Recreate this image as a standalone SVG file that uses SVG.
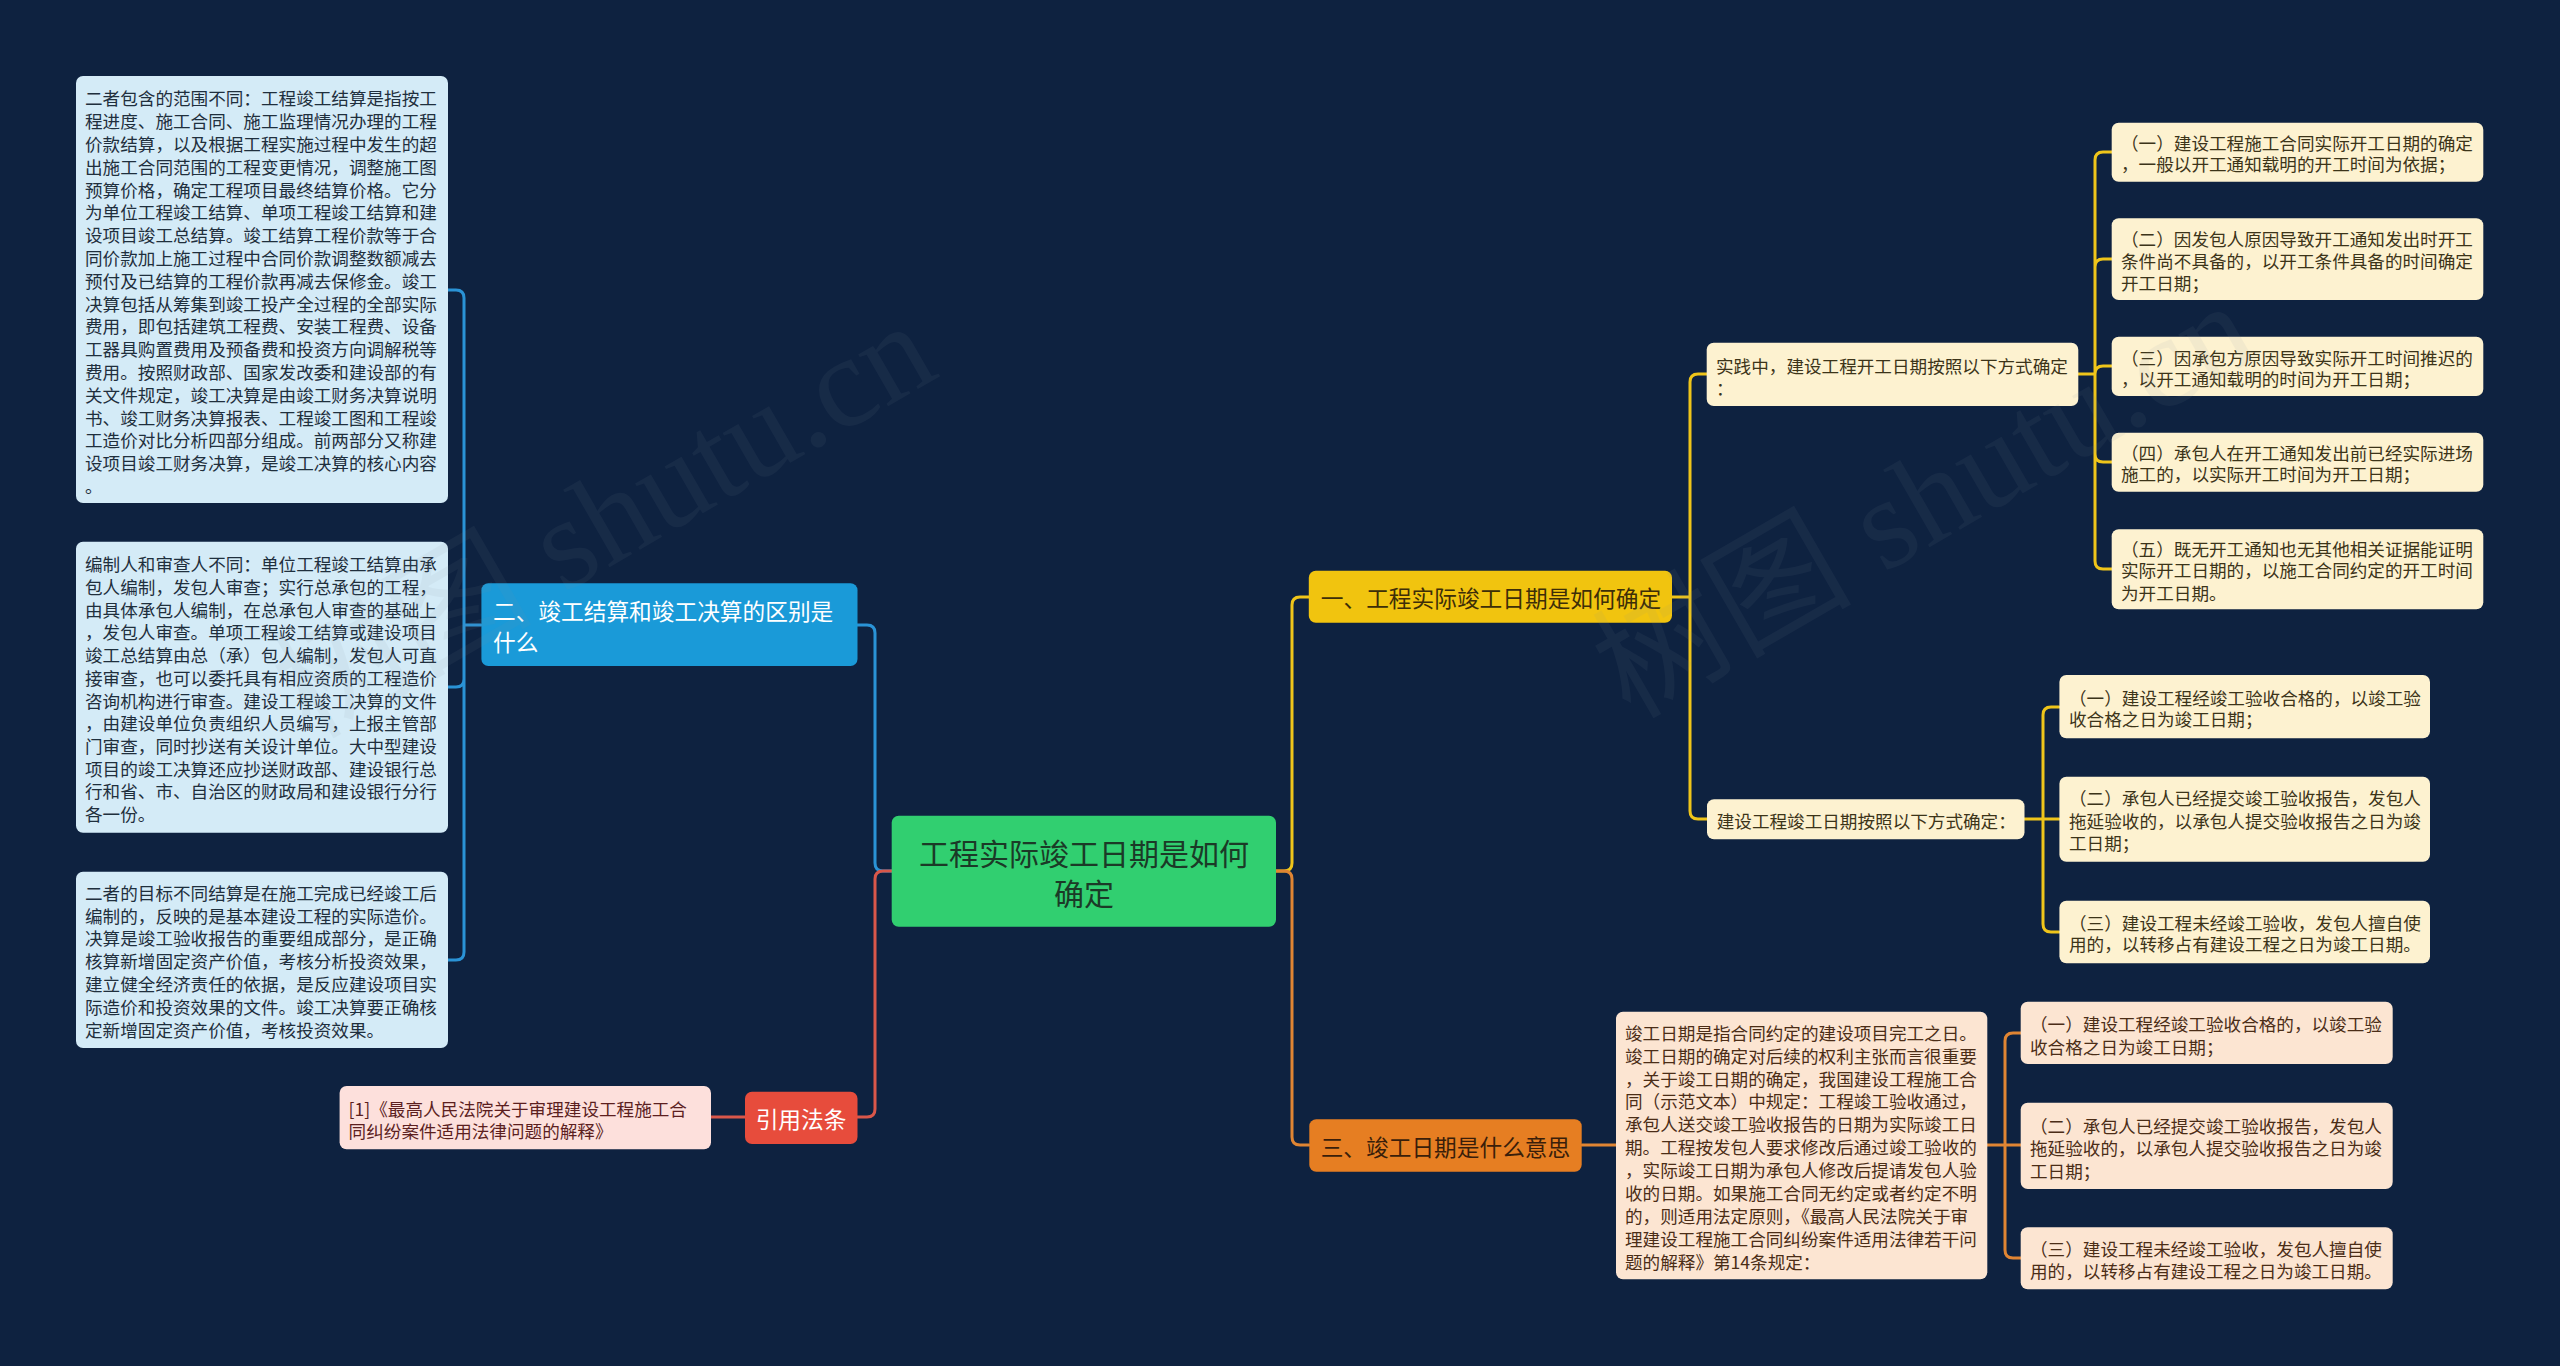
<svg xmlns="http://www.w3.org/2000/svg" width="2560" height="1366" viewBox="0 0 2560 1366">
<style>
text{font-family:"Noto Sans CJK SC","Noto Sans",sans-serif;dominant-baseline:central}
.s{font-size:17.6px}
.m{font-size:22.7px}
.c path{fill:none;stroke-width:3;stroke-linecap:round;stroke-linejoin:round}
.cb{stroke:#2a93d6}.cr{stroke:#d9574a}.cy{stroke:#efc51a}.co{stroke:#e08533}
.bb{fill:#d4ebf7}.tb{fill:#1f2f3d}
.by{fill:#fdf2d0}.ty{fill:#3c3419}
.bo{fill:#fce5d2}.to{fill:#4b2d17}
.wm{font-family:"Liberation Serif","Noto Sans CJK SC",serif;font-size:130px;fill:#8090a0;opacity:0.08}
</style>
<rect width="2560" height="1366" fill="#0e2240"/>

<g id="connectors" class="c">
<path class="cb" d="M892 871H883Q875 871 875 863V633Q875 625 867 625H857"/>
<path class="cr" d="M892 871H883Q875 871 875 879V1109Q875 1117 867 1117H857"/>
<path class="cy" d="M1276 871H1284Q1292 871 1292 863V605Q1292 597 1300 597H1309"/>
<path class="co" d="M1276 871H1284Q1292 871 1292 879V1137Q1292 1145 1300 1145H1309"/>
<path class="cb" d="M481 625H464M464 625V298Q464 290 456 290H448M464 625V679Q464 687 456 687H448M464 625V952Q464 960 456 960H448"/>
<path class="cr" d="M745 1117H711"/>
<path class="cy" d="M1672 597H1690M1690 597V382Q1690 374 1698 374H1707M1690 597V811Q1690 819 1698 819H1707"/>
<path class="cy" d="M2078 374H2095M2095 374V160Q2095 152 2103 152H2112M2095 374V267Q2095 259 2103 259H2112M2095 374Q2095 366 2103 366H2112M2095 374V454Q2095 462 2103 462H2112M2095 374V561Q2095 569 2103 569H2112"/>
<path class="cy" d="M2024 819H2059M2043 819V715Q2043 707 2051 707H2059M2043 819V924Q2043 932 2051 932H2059"/>
<path class="co" d="M1582 1145H1616M1987 1145H2005M2005 1145V1041Q2005 1033 2013 1033H2021M2005 1145H2021M2005 1145V1250Q2005 1258 2013 1258H2021"/>
</g>

<g id="center">
<rect x="891.7" y="815.7" width="384.3" height="111" rx="7" fill="#31cf70"/>
<text x="1084" y="851.7" text-anchor="middle" font-size="30" fill="#1b3a27">工程实际竣工日期是如何</text>
<text x="1084" y="891.7" text-anchor="middle" font-size="30" fill="#1b3a27">确定</text>
</g>

<g id="n-blue">
<rect x="481.4" y="583.3" width="376.1" height="82.7" rx="7" fill="#1a9ad8"/>
<text class="m" x="493" y="610" fill="#ffffff">二、竣工结算和竣工决算的区别是</text>
<text class="m" x="493" y="641.7" fill="#ffffff">什么</text>
</g>

<g id="b1">
<rect class="bb" x="76" y="76" width="372" height="427" rx="7"/>
<text class="s tb">
<tspan x="85" y="97.3">二者包含的范围不同：工程竣工结算是指按工</tspan>
<tspan x="85" y="120.1">程进度、施工合同、施工监理情况办理的工程</tspan>
<tspan x="85" y="142.9">价款结算，以及根据工程实施过程中发生的超</tspan>
<tspan x="85" y="165.7">出施工合同范围的工程变更情况，调整施工图</tspan>
<tspan x="85" y="188.5">预算价格，确定工程项目最终结算价格。它分</tspan>
<tspan x="85" y="211.3">为单位工程竣工结算、单项工程竣工结算和建</tspan>
<tspan x="85" y="234.1">设项目竣工总结算。竣工结算工程价款等于合</tspan>
<tspan x="85" y="256.9">同价款加上施工过程中合同价款调整数额减去</tspan>
<tspan x="85" y="279.7">预付及已结算的工程价款再减去保修金。竣工</tspan>
<tspan x="85" y="302.5">决算包括从筹集到竣工投产全过程的全部实际</tspan>
<tspan x="85" y="325.3">费用，即包括建筑工程费、安装工程费、设备</tspan>
<tspan x="85" y="348.1">工器具购置费用及预备费和投资方向调解税等</tspan>
<tspan x="85" y="370.9">费用。按照财政部、国家发改委和建设部的有</tspan>
<tspan x="85" y="393.7">关文件规定，竣工决算是由竣工财务决算说明</tspan>
<tspan x="85" y="416.5">书、竣工财务决算报表、工程竣工图和工程竣</tspan>
<tspan x="85" y="439.3">工造价对比分析四部分组成。前两部分又称建</tspan>
<tspan x="85" y="462.1">设项目竣工财务决算，是竣工决算的核心内容</tspan>
<tspan x="85" y="484.9">。</tspan>
</text>
</g>

<g id="b2">
<rect class="bb" x="76" y="541.7" width="372" height="291" rx="7"/>
<text class="s tb">
<tspan x="85" y="563.3">编制人和审查人不同：单位工程竣工结算由承</tspan>
<tspan x="85" y="586">包人编制，发包人审查；实行总承包的工程，</tspan>
<tspan x="85" y="608.7">由具体承包人编制，在总承包人审查的基础上</tspan>
<tspan x="85" y="631.4">，发包人审查。单项工程竣工结算或建设项目</tspan>
<tspan x="85" y="654.1">竣工总结算由总（承）包人编制，发包人可直</tspan>
<tspan x="85" y="676.8">接审查，也可以委托具有相应资质的工程造价</tspan>
<tspan x="85" y="699.5">咨询机构进行审查。建设工程竣工决算的文件</tspan>
<tspan x="85" y="722.2">，由建设单位负责组织人员编写，上报主管部</tspan>
<tspan x="85" y="744.9">门审查，同时抄送有关设计单位。大中型建设</tspan>
<tspan x="85" y="767.6">项目的竣工决算还应抄送财政部、建设银行总</tspan>
<tspan x="85" y="790.3">行和省、市、自治区的财政局和建设银行分行</tspan>
<tspan x="85" y="813">各一份。</tspan>
</text>
</g>

<g id="b3">
<rect class="bb" x="76" y="871.7" width="372" height="176.3" rx="7"/>
<text class="s tb">
<tspan x="85" y="891.7">二者的目标不同结算是在施工完成已经竣工后</tspan>
<tspan x="85" y="914.5">编制的，反映的是基本建设工程的实际造价。</tspan>
<tspan x="85" y="937.3">决算是竣工验收报告的重要组成部分，是正确</tspan>
<tspan x="85" y="960.1">核算新增固定资产价值，考核分析投资效果，</tspan>
<tspan x="85" y="982.9">建立健全经济责任的依据，是反应建设项目实</tspan>
<tspan x="85" y="1005.7">际造价和投资效果的文件。竣工决算要正确核</tspan>
<tspan x="85" y="1028.5">定新增固定资产价值，考核投资效果。</tspan>
</text>
</g>

<g id="n-red">
<rect x="745" y="1091.7" width="112.5" height="52.3" rx="7" fill="#e74c3c"/>
<text class="m" x="801" y="1118.3" text-anchor="middle" fill="#ffffff">引用法条</text>
</g>

<g id="cite">
<rect x="339.6" y="1086" width="371.4" height="63.3" rx="7" fill="#fde0dc"/>
<text class="s" fill="#5c1f1f">
<tspan x="348.6" y="1108.3">[1]《最高人民法院关于审理建设工程施工合</tspan>
<tspan x="348.6" y="1130">同纠纷案件适用法律问题的解释》</tspan>
</text>
</g>

<g id="n-yellow">
<rect x="1308.8" y="570.7" width="363.2" height="52" rx="7" fill="#f1c40f"/>
<text class="m" x="1320.8" y="597.5" fill="#3d2e08">一、工程实际竣工日期是如何确定</text>
</g>

<g id="y1">
<rect class="by" x="1706.7" y="342.7" width="371.6" height="63.3" rx="7"/>
<text class="s ty"><tspan x="1716" y="365">实践中，建设工程开工日期按照以下方式确定</tspan><tspan x="1716" y="386.7">：</tspan></text>
</g>

<g id="ya">
<rect class="by" x="2111.7" y="122.7" width="371.6" height="59" rx="7"/>
<text class="s ty"><tspan x="2121" y="141.7">（一）建设工程施工合同实际开工日期的确定</tspan><tspan x="2121" y="163.3">，一般以开工通知载明的开工时间为依据；</tspan></text>
</g>
<g id="yb">
<rect class="by" x="2111.7" y="218.3" width="371.6" height="81.7" rx="7"/>
<text class="s ty"><tspan x="2121" y="238.3">（二）因发包人原因导致开工通知发出时开工</tspan><tspan x="2121" y="260">条件尚不具备的，以开工条件具备的时间确定</tspan><tspan x="2121" y="281.7">开工日期；</tspan></text>
</g>
<g id="yc">
<rect class="by" x="2111.7" y="336.7" width="371.6" height="59.3" rx="7"/>
<text class="s ty"><tspan x="2121" y="356.7">（三）因承包方原因导致实际开工时间推迟的</tspan><tspan x="2121" y="377.7">，以开工通知载明的时间为开工日期；</tspan></text>
</g>
<g id="yd">
<rect class="by" x="2111.7" y="432.7" width="371.6" height="59" rx="7"/>
<text class="s ty"><tspan x="2121" y="451.7">（四）承包人在开工通知发出前已经实际进场</tspan><tspan x="2121" y="473.3">施工的，以实际开工时间为开工日期；</tspan></text>
</g>
<g id="ye">
<rect class="by" x="2111.7" y="529.3" width="371.6" height="80" rx="7"/>
<text class="s ty"><tspan x="2121" y="548.3">（五）既无开工通知也无其他相关证据能证明</tspan><tspan x="2121" y="569.3">实际开工日期的，以施工合同约定的开工时间</tspan><tspan x="2121" y="591.7">为开工日期。</tspan></text>
</g>

<g id="y2">
<rect class="by" x="1707" y="799.3" width="317.5" height="40" rx="7"/>
<text class="s ty" x="1716.7" y="820">建设工程竣工日期按照以下方式确定：</text>
</g>
<g id="yf">
<rect class="by" x="2059.4" y="675" width="370.6" height="63.3" rx="7"/>
<text class="s ty"><tspan x="2069" y="696.7">（一）建设工程经竣工验收合格的，以竣工验</tspan><tspan x="2069" y="718.3">收合格之日为竣工日期；</tspan></text>
</g>
<g id="yg">
<rect class="by" x="2059.4" y="776.7" width="370.6" height="85" rx="7"/>
<text class="s ty"><tspan x="2069" y="796.7">（二）承包人已经提交竣工验收报告，发包人</tspan><tspan x="2069" y="820">拖延验收的，以承包人提交验收报告之日为竣</tspan><tspan x="2069" y="841.7">工日期；</tspan></text>
</g>
<g id="yh">
<rect class="by" x="2059.4" y="900.7" width="370.6" height="62.6" rx="7"/>
<text class="s ty"><tspan x="2069" y="921.7">（三）建设工程未经竣工验收，发包人擅自使</tspan><tspan x="2069" y="943.3">用的，以转移占有建设工程之日为竣工日期。</tspan></text>
</g>

<g id="n-orange">
<rect x="1309.3" y="1119.3" width="272.4" height="52.4" rx="7" fill="#e67e22"/>
<text class="m" x="1320.7" y="1146.5" fill="#3a1e0a">三、竣工日期是什么意思</text>
</g>

<g id="o1">
<rect class="bo" x="1616" y="1011.7" width="371.3" height="267.6" rx="7"/>
<text class="s to">
<tspan x="1625" y="1031.7">竣工日期是指合同约定的建设项目完工之日。</tspan>
<tspan x="1625" y="1054.6">竣工日期的确定对后续的权利主张而言很重要</tspan>
<tspan x="1625" y="1077.5">，关于竣工日期的确定，我国建设工程施工合</tspan>
<tspan x="1625" y="1100.4">同（示范文本）中规定：工程竣工验收通过，</tspan>
<tspan x="1625" y="1123.3">承包人送交竣工验收报告的日期为实际竣工日</tspan>
<tspan x="1625" y="1146.2">期。工程按发包人要求修改后通过竣工验收的</tspan>
<tspan x="1625" y="1169.1">，实际竣工日期为承包人修改后提请发包人验</tspan>
<tspan x="1625" y="1192">收的日期。如果施工合同无约定或者约定不明</tspan>
<tspan x="1625" y="1214.9">的，则适用法定原则，《最高人民法院关于审</tspan>
<tspan x="1625" y="1237.8">理建设工程施工合同纠纷案件适用法律若干问</tspan>
<tspan x="1625" y="1260.7">题的解释》第14条规定：</tspan>
</text>
</g>
<g id="oi">
<rect class="bo" x="2020.7" y="1001.7" width="372" height="62.3" rx="7"/>
<text class="s to"><tspan x="2030" y="1023.3">（一）建设工程经竣工验收合格的，以竣工验</tspan><tspan x="2030" y="1046">收合格之日为竣工日期；</tspan></text>
</g>
<g id="oj">
<rect class="bo" x="2020.7" y="1102.7" width="372" height="86.3" rx="7"/>
<text class="s to"><tspan x="2030" y="1125">（二）承包人已经提交竣工验收报告，发包人</tspan><tspan x="2030" y="1146.7">拖延验收的，以承包人提交验收报告之日为竣</tspan><tspan x="2030" y="1170">工日期；</tspan></text>
</g>
<g id="ok">
<rect class="bo" x="2020.7" y="1227.3" width="372" height="62" rx="7"/>
<text class="s to"><tspan x="2030" y="1248.3">（三）建设工程未经竣工验收，发包人擅自使</tspan><tspan x="2030" y="1270">用的，以转移占有建设工程之日为竣工日期。</tspan></text>
</g>

<g id="watermark">
<text class="wm" transform="translate(310 740) rotate(-30)" style="dominant-baseline:auto">树图 shutu.cn</text>
<text class="wm" transform="translate(1630 720) rotate(-30)" style="dominant-baseline:auto">树图 shutu.cn</text>
</g>
</svg>
